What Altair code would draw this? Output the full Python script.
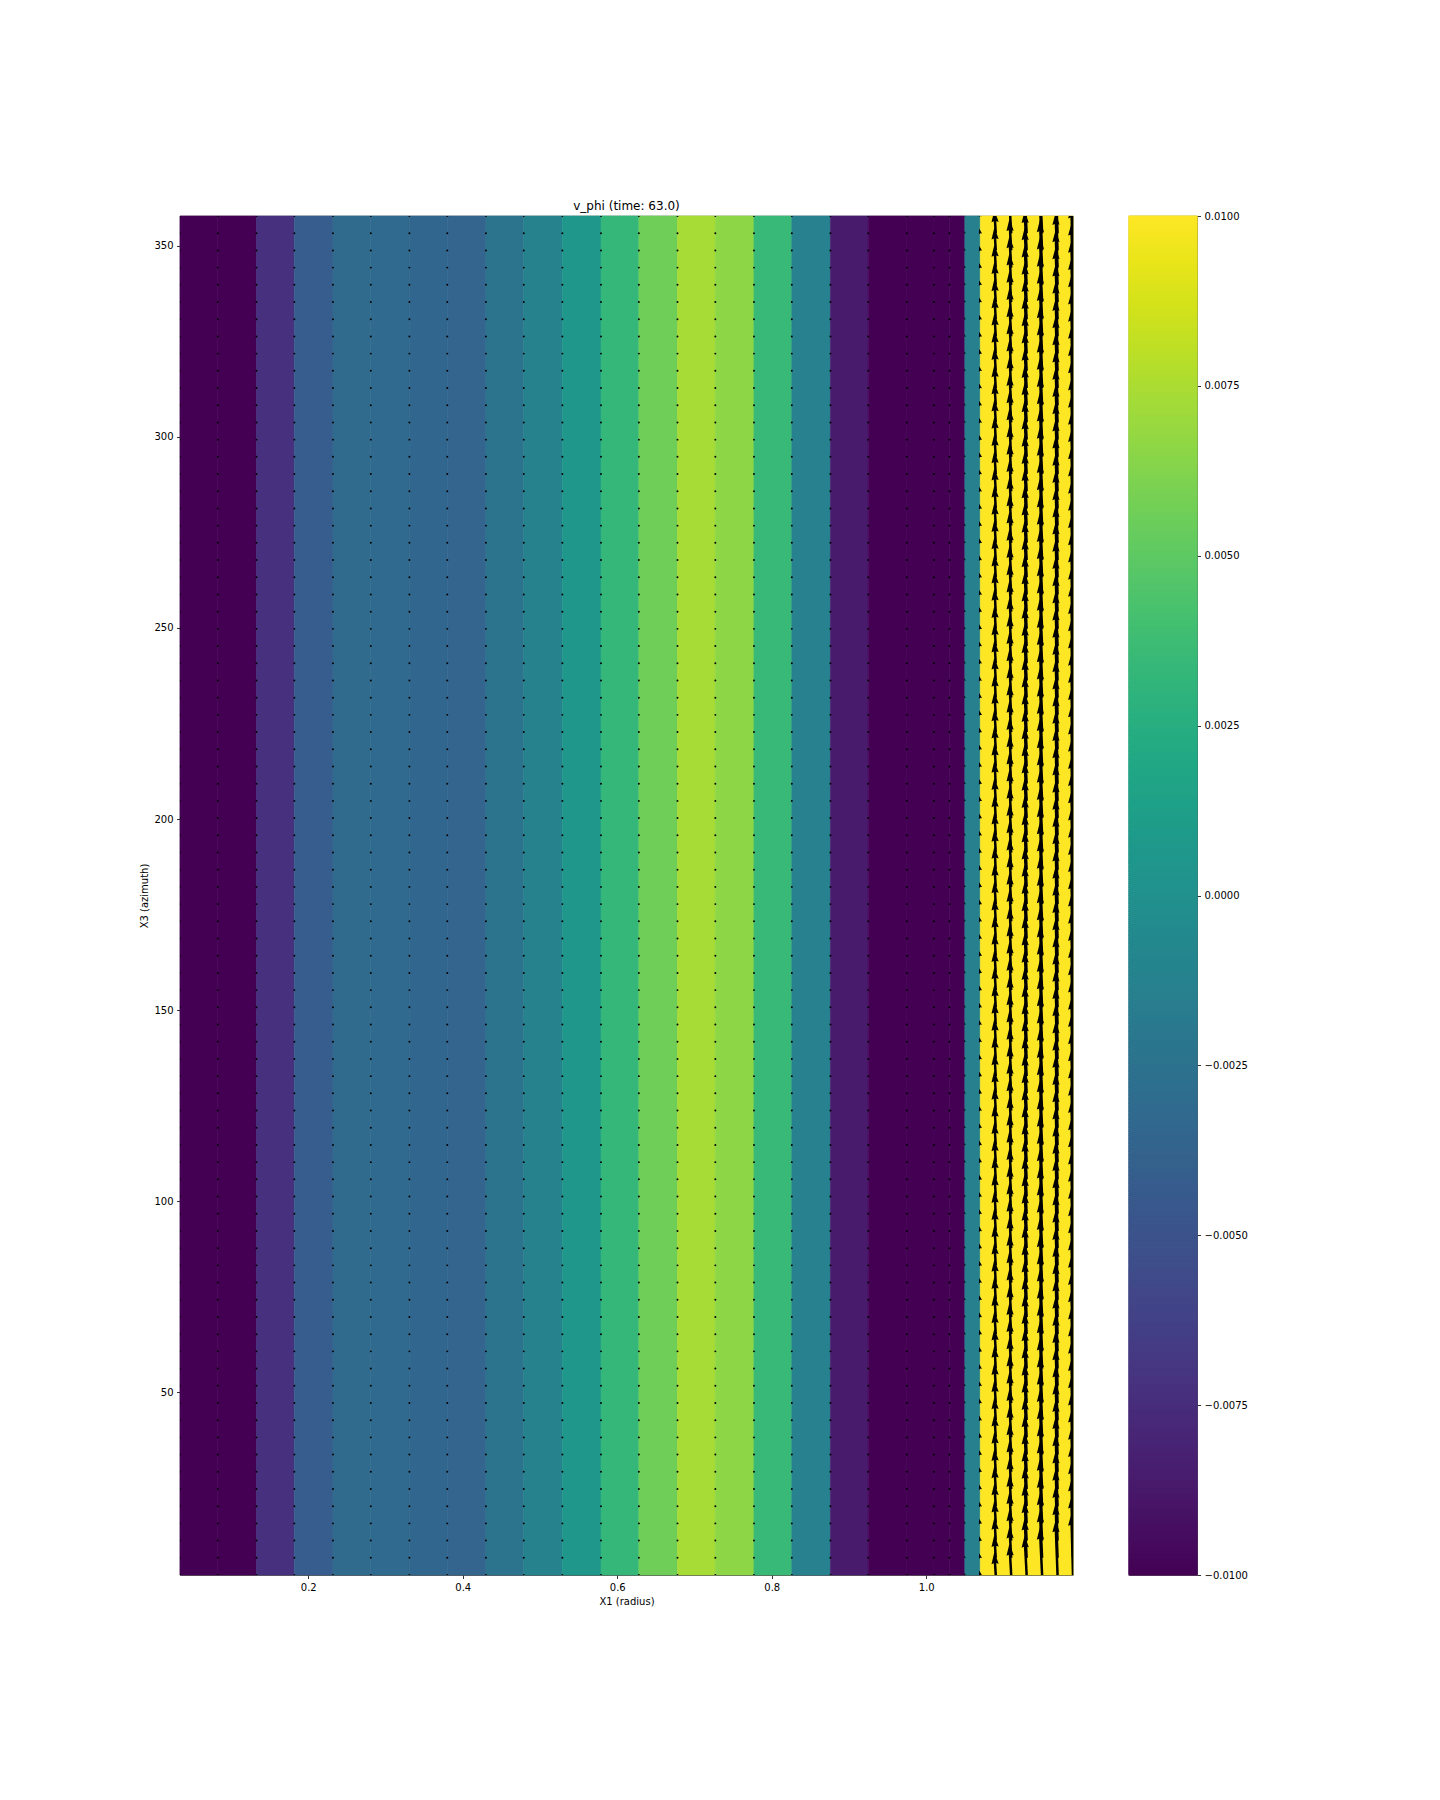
import math
import numpy as np
import pandas as pd
import altair as alt

# ---------------- data ----------------
# radial grid points (cell edges and quiver tails)
x_grid = [0.034, 0.083, 0.133, 0.182, 0.232, 0.281, 0.331, 0.380, 0.430, 0.479,
          0.529, 0.579, 0.628, 0.678, 0.727, 0.777, 0.826, 0.876, 0.925, 0.975,
          1.010, 1.030, 1.050, 1.070, 1.090, 1.110, 1.130, 1.150, 1.170, 1.190]
# azimuthal grid (degrees)
y_first, y_step, y_count = 2.25, 4.5, 80
y_grid = [y_first + y_step * k for k in range(y_count)]

# v_phi per radial cell (between consecutive radial grid points)
v_phi = [-0.0105, -0.0102, -0.0073, -0.0042, -0.0031, -0.0032, -0.0034, -0.0036,
         -0.0024, -0.0011, 0.0006, 0.0033, 0.0056, 0.0074, 0.0066, 0.0035,
         -0.0013, -0.0086, -0.0110, -0.0120, -0.0130, -0.0110, -0.0014,
         0.0120, 0.0150, 0.0180, 0.0200, 0.0220, 0.0250]

# quiver components per radial grid column (radius units, degrees)
arrow_dr = [0.0] * 20 + [-0.0002, -0.0002, -0.0003, -0.0015,
                         -0.0018, -0.0023, -0.0027, -0.0029, -0.0026, -0.0021]
arrow_dphi = [0.3] * 20 + [0.5, 0.5, 0.6, 1.2,
                           6.0, 8.2, 10.3, 12.4, 14.3, 16.0]

x_ticks = [0.2, 0.4, 0.6, 0.8, 1.0]
y_ticks = [50, 100, 150, 200, 250, 300, 350]
cbar_ticks = [-0.01, -0.0075, -0.005, -0.0025, 0.0, 0.0025, 0.005, 0.0075, 0.01]
v_min, v_max = -0.01, 0.01
title_text = "v_phi (time: 63.0)"

# ---------------- layout / style ----------------
W, H = 893, 1359
CBW = 68
FONT = "DejaVu Sans"
x_dom = [x_grid[0], x_grid[-1]]
y_dom = [y_grid[0], y_grid[-1]]
SX = W / (x_dom[1] - x_dom[0])
SY = H / (y_dom[1] - y_dom[0])

SHAFT = 2.5
HEAD_HALF = 3.6
HEAD_SIZE = (2 * HEAD_HALF) ** 2
HEAD_AXIS = 10.5
HEAD_PATH = "M0,0L1,3.3L0,2.95L-1,3.3Z"
DOT_MIN = 2.2

# ---------------- tables ----------------
cells = pd.DataFrame({
    "x0": x_grid[:-1], "x1": x_grid[1:],
    "y0": [y_dom[0]] * len(v_phi), "y1": [y_dom[1]] * len(v_phi),
    "v": v_phi,
})

rows = []
for xi, dr, dp in zip(x_grid, arrow_dr, arrow_dphi):
    pdx, pdy = dr * SX, dp * SY
    L = math.hypot(pdx, pdy)
    ang = math.degrees(math.atan2(pdx, pdy)) % 360
    frac = max(0.0, (L - HEAD_AXIS + 1.0) / L) if L > 0 else 0.0
    hs = HEAD_SIZE if L >= HEAD_AXIS else HEAD_SIZE * (L / HEAD_AXIS) ** 2
    for yj in y_grid:
        rows.append({
            "x": xi, "y": yj,
            "xe": xi + dr * frac, "ye": yj + dp * frac,
            "xt": xi + dr, "yt": yj + dp,
            "angle": ang, "hsize": hs, "L": L,
        })
arrows = pd.DataFrame(rows)
long_arrows = arrows[arrows["L"] >= HEAD_AXIS]
headed = arrows[arrows["L"] >= DOT_MIN]
dots = arrows[arrows["L"] < DOT_MIN]

# ---------------- scales / axes ----------------
xscale = alt.Scale(domain=x_dom, nice=False, zero=False)
yscale = alt.Scale(domain=y_dom, nice=False, zero=False)
cscale = alt.Scale(scheme="viridis", domain=[v_min, v_max], clamp=True)
xaxis = alt.Axis(values=x_ticks, format=".1f", title="X1 (radius)", domain=False,
                 grid=False, titlePadding=4)
yaxis = alt.Axis(values=y_ticks, format="d", title="X3 (azimuth)", domain=False,
                 grid=False, titlePadding=4)


def X(f):
    return alt.X(f, type="quantitative", scale=xscale, axis=xaxis, title="X1 (radius)")


def Y(f):
    return alt.Y(f, type="quantitative", scale=yscale, axis=yaxis, title="X3 (azimuth)")


heat = alt.Chart(cells).mark_rect(strokeWidth=0.6).encode(
    x=X("x0"), x2="x1", y=Y("y0"), y2="y1",
    color=alt.Color("v:Q", scale=cscale, legend=None),
    stroke=alt.Stroke("v:Q", scale=cscale, legend=None),
)

shafts = alt.Chart(long_arrows).mark_rule(
    color="black", strokeWidth=SHAFT, strokeCap="butt", clip=True
).encode(x=X("x"), y=Y("y"), x2="xe", y2="ye")

heads = alt.Chart(headed).mark_point(
    shape=HEAD_PATH, filled=True, color="black", opacity=1, strokeWidth=0, clip=True
).encode(
    x=X("xt"), y=Y("yt"),
    size=alt.Size("hsize:Q", scale=None),
    angle=alt.Angle("angle:Q", scale=None),
)

dotm = alt.Chart(dots).mark_point(
    shape="circle", filled=True, color="black", opacity=1, size=3.8, strokeWidth=0, clip=True
).encode(x=X("x"), y=Y("y"))

main = alt.layer(heat, shafts, heads, dotm).properties(
    width=W, height=H,
    title=alt.TitleParams(title_text, fontSize=12, font=FONT, fontWeight="normal",
                          color="black", anchor="middle", offset=3),
)

# colorbar (sampled from the same colour scale)
edges = np.linspace(v_min, v_max, 681)
cb = pd.DataFrame({"lo": edges[:-1], "hi": edges[1:], "v": (edges[:-1] + edges[1:]) / 2})
cbar = alt.Chart(cb).mark_rect(strokeWidth=1.2).encode(
    x=alt.value(0), x2=alt.value(CBW),
    y=alt.Y("lo:Q", scale=alt.Scale(domain=[v_min, v_max], nice=False, zero=False),
            axis=alt.Axis(orient="right", values=cbar_ticks, format=".4f", title=None,
                          domain=False, grid=False)),
    y2="hi:Q",
    color=alt.Color("v:Q", scale=cscale, legend=None),
    stroke=alt.Stroke("v:Q", scale=cscale, legend=None),
).properties(width=CBW, height=H)

chart = alt.hconcat(main, cbar, spacing=54).properties(
    padding={"left": 131, "top": 191, "right": 10, "bottom": 10},
    background="white",
).configure_view(
    stroke="black", strokeWidth=0.8
).configure_axis(
    labelFont=FONT, labelFontSize=10, labelColor="black",
    titleFont=FONT, titleFontSize=10, titleFontWeight="normal", titleColor="black",
    tickColor="black", tickSize=3.5, tickWidth=0.8, labelPadding=3.5,
).configure_title(font=FONT)

chart.save("out.html", embed_options={"renderer": "svg", "actions": False})
